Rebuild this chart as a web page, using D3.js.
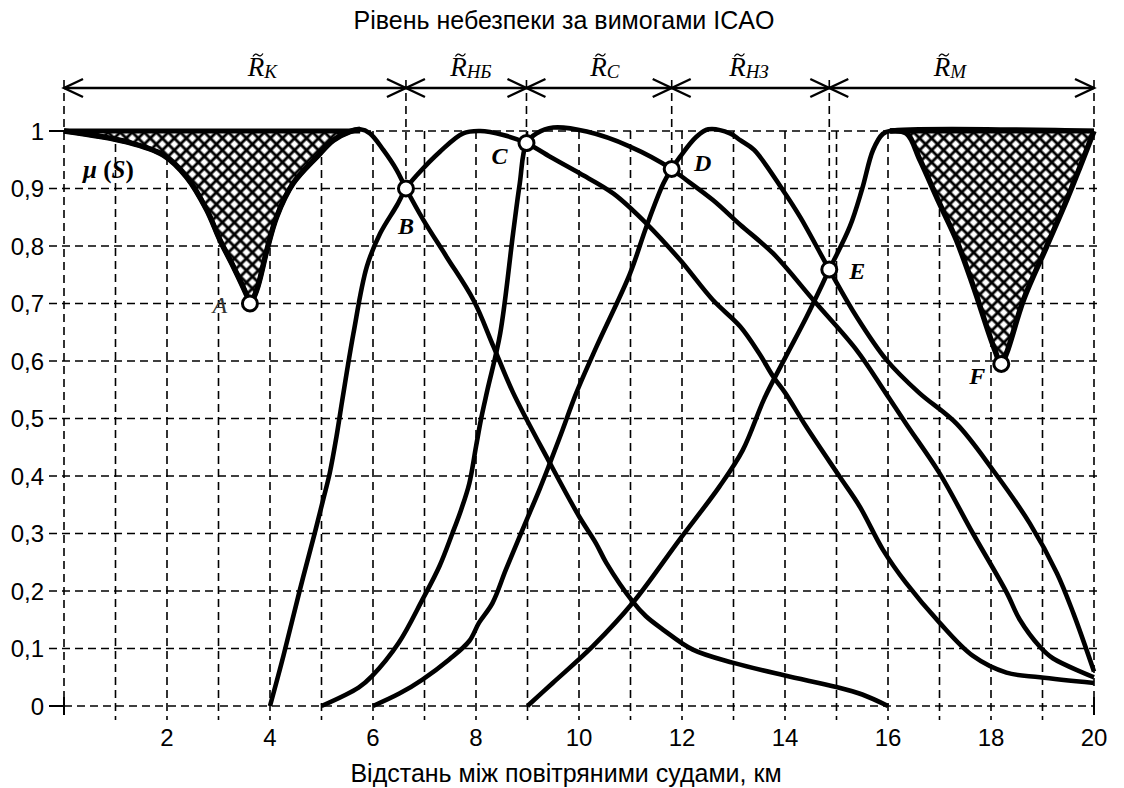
<!DOCTYPE html>
<html>
<head>
<meta charset="utf-8">
<script src="https://cdn.jsdelivr.net/npm/d3@7/dist/d3.min.js"></script>
<style>
  body { margin: 0; background: #fff; }
  svg { display: block; }
  .sans { font-family: "Liberation Sans", Arial, sans-serif; }
  .serif { font-family: "Liberation Serif", "Times New Roman", serif; }
</style>
</head>
<body>
<svg id="chart" width="1124" height="788"></svg>
<script>
// Рівень небезпеки -- membership functions mu(S)

var title = "Рівень небезпеки за вимогами ICAO";
var xTitle = "Відстань між повітряними судами, км";

var xTicks = [2, 4, 6, 8, 10, 12, 14, 16, 18, 20];
var yTicks = [0, 0.1, 0.2, 0.3, 0.4, 0.5, 0.6, 0.7, 0.8, 0.9, 1];
var yTickLabels = ["0", "0,1", "0,2", "0,3", "0,4", "0,5", "0,6", "0,7", "0,8", "0,9", "1"];

// range labels above the chart
var rangeSubs = ["K", "НБ", "С", "НЗ", "М"];
var rangeLabelAt = [3.85, 7.9, 10.5, 13.3, 17.2];

// named points
var points = [
  {name: "A", x: 3.61, v: 0.70},
  {name: "B", x: 6.64, v: 0.90},
  {name: "C", x: 8.98, v: 0.979},
  {name: "D", x: 11.8, v: 0.934},
  {name: "E", x: 14.86, v: 0.759},
  {name: "F", x: 18.2, v: 0.595}
];

// curves, [distance km, mu]
var curveK = [[0,1.0],[1.22,0.981],[1.93,0.958],[2.38,0.92],[2.77,0.863],[3.03,0.81],[3.29,0.764],[3.55,0.714],[3.61,0.70],
  [3.74,0.723],[3.94,0.793],[4.13,0.851],[4.45,0.909],[4.91,0.955],[5.23,0.984],[5.55,0.999],[5.75,1.003],
  [5.94,0.996],[6.2,0.967],[6.46,0.932],[6.64,0.90],[6.98,0.845],[7.43,0.781],[7.95,0.706],[8.34,0.625],
  [8.72,0.545],[9.42,0.425],[10.0,0.33],[10.33,0.283],[10.53,0.249],[11.04,0.182],[11.3,0.156],[11.63,0.133],
  [12.21,0.098],[13.0,0.075],[14.0,0.053],[15.0,0.033],[15.5,0.02],[16,0]];

var curveNB = [[4,0],[4.26,0.087],[4.58,0.202],[4.87,0.301],[5.03,0.358],[5.16,0.405],[5.29,0.468],[5.4,0.53],
  [5.62,0.648],[5.88,0.764],[6.14,0.822],[6.46,0.87],[6.64,0.90],[6.85,0.923],[7.3,0.964],[7.75,0.996],
  [8.08,1.0],[8.53,0.993],[8.98,0.979],[9.5,0.952],[10.02,0.926],[10.67,0.891],[11.31,0.839],[11.96,0.776],
  [12.6,0.706],[13.13,0.66],[13.5,0.613],[13.77,0.573],[14.0,0.545],[14.41,0.486],[15.06,0.399],[15.45,0.347],
  [15.9,0.272],[16.35,0.214],[17,0.145],[17.65,0.087],[18.3,0.058],[18.95,0.05],[20,0.04]];

var curveC = [[5,0],[5.72,0.032],[5.98,0.052],[6.5,0.11],[6.96,0.185],[7.29,0.243],[7.54,0.30],[7.71,0.341],
  [7.87,0.387],[8.0,0.451],[8.1,0.5],[8.22,0.549],[8.47,0.648],[8.72,0.822],[8.85,0.909],[8.98,0.979],
  [9.18,0.996],[9.5,1.006],[10.15,0.999],[10.99,0.973],[11.8,0.934],[11.96,0.923],[12.6,0.88],[13.13,0.837],
  [13.77,0.787],[14.55,0.706],[15.39,0.619],[15.95,0.545],[16.35,0.491],[17.0,0.405],[17.65,0.30],
  [18.3,0.198],[18.56,0.15],[18.95,0.103],[19.2,0.083],[20,0.05]];

var curveNZ = [[6,0],[6.52,0.022],[6.96,0.046],[7.48,0.081],[7.87,0.113],[8.06,0.145],[8.32,0.179],[8.58,0.237],
  [8.9,0.306],[9.23,0.376],[9.42,0.419],[9.68,0.48],[9.95,0.545],[10.34,0.625],[10.99,0.752],[11.31,0.834],
  [11.64,0.909],[11.8,0.934],[11.96,0.955],[12.28,0.99],[12.51,1.003],[12.93,0.996],[13.13,0.984],
  [13.4,0.967],[13.96,0.897],[14.29,0.851],[14.86,0.759],[15.39,0.677],[15.97,0.602],[16.6,0.545],
  [17.33,0.491],[18.04,0.41],[18.75,0.318],[19.28,0.231],[19.6,0.161],[20,0.06]];

var curveM = [[9,0],[9.49,0.04],[10.27,0.104],[11.04,0.179],[11.95,0.289],[12.73,0.382],[13.18,0.445],
  [13.6,0.535],[14.0,0.605],[14.42,0.677],[14.86,0.759],[15.26,0.834],[15.5,0.9],[15.71,0.967],[15.9,0.995],
  [16.04,1.0],[20,1.0]];

// lower edge of the right hatched zone (down to F)
var zoneF = [[16.04,1.0],[16.36,0.996],[16.62,0.95],[17.0,0.874],[17.33,0.81],[17.66,0.729],[18.05,0.625],
  [18.2,0.595],[18.3,0.613],[18.63,0.706],[19.08,0.799],[19.47,0.88],[19.73,0.938],[20,1.0]];

///////////////////////////////////////////////////////////////////////////////
// Scales

var svg = d3.select("#chart");
var x = d3.scaleLinear().domain([0, 20]).range([64, 1094]);
var y = d3.scaleLinear().domain([0, 1]).range([706, 131]);
var arrowY = 88;

var line = d3.line()
  .x(function (d) { return x(d[0]); })
  .y(function (d) { return y(d[1]); })
  .curve(d3.curveCatmullRom.alpha(0.5));

var defs = svg.append("defs");
var pat = defs.append("pattern")
  .attr("id", "hatch")
  .attr("patternUnits", "userSpaceOnUse")
  .attr("width", 8.5).attr("height", 8.5)
  .attr("patternTransform", "rotate(45)");
pat.append("rect").attr("width", 8.5).attr("height", 8.5).attr("fill", "#fff");
pat.append("path").attr("d", "M0,0H8.5M0,8.5H8.5M0,0V8.5M8.5,0V8.5")
  .attr("stroke", "#000").attr("stroke-width", 2.8);

///////////////////////////////////////////////////////////////////////////////
// Grid

var grid = svg.append("g").attr("stroke", "#000").attr("stroke-width", 1.6)
  .attr("stroke-dasharray", "8,5").attr("fill", "none");

grid.selectAll("line.v").data(d3.range(1, 20)).enter().append("line")
  .attr("x1", x).attr("x2", x)
  .attr("y1", y(1)).attr("y2", y(0) + 14);

grid.selectAll("line.h").data(yTicks.filter(function (t) { return t > 0 && t < 1; }))
  .enter().append("line")
  .attr("x1", 49).attr("x2", x(20) + 7)
  .attr("y1", y).attr("y2", y);

grid.selectAll("line.e").data([0, 1]).enter().append("line")
  .attr("x1", x(0)).attr("x2", x(20))
  .attr("y1", y).attr("y2", y);

// dashed drops from the range arrow down to the points
var bounds = [0].concat(points.slice(1, 5).map(function (p) { return p.x; }), [20]);
var dropTo = [0].concat(points.slice(1, 5).map(function (p) { return p.v; }), [0]);
grid.selectAll("line.b").data(bounds).enter().append("line")
  .attr("x1", x).attr("x2", x)
  .attr("y1", arrowY - 8)
  .attr("y2", function (d, i) { return y(dropTo[i]); });

// solid ticks
var ticks = svg.append("g").attr("stroke", "#000").attr("stroke-width", 2);
ticks.selectAll("line.t").data([0, 1]).enter().append("line")
  .attr("x1", 49).attr("x2", x(0)).attr("y1", y).attr("y2", y);
ticks.selectAll("line.s").data([0, 20]).enter().append("line")
  .attr("x1", x).attr("x2", x).attr("y1", y(0) - 9).attr("y2", y(0) + 9);

///////////////////////////////////////////////////////////////////////////////
// Axis labels

svg.append("g").attr("class", "sans").attr("font-size", 24)
  .selectAll("text").data(yTicks).enter().append("text")
  .attr("x", 44).attr("y", function (d) { return y(d) + 8.5; })
  .attr("text-anchor", "end")
  .text(function (d, i) { return yTickLabels[i]; });

svg.append("g").attr("class", "sans").attr("font-size", 24)
  .selectAll("text").data(xTicks).enter().append("text")
  .attr("x", x).attr("y", 746)
  .attr("text-anchor", "middle")
  .text(function (d) { return d; });

svg.append("text").attr("class", "sans").attr("font-size", 25)
  .attr("x", 564).attr("y", 29).attr("text-anchor", "middle").text(title);

svg.append("text").attr("class", "sans").attr("font-size", 25)
  .attr("x", 566).attr("y", 782).attr("text-anchor", "middle").text(xTitle);

///////////////////////////////////////////////////////////////////////////////
// Range arrows

var arr = svg.append("g").attr("stroke", "#000").attr("fill", "none").attr("stroke-width", 2.4);
arr.append("line").attr("x1", x(0)).attr("x2", x(20)).attr("y1", arrowY).attr("y2", arrowY);
for (var i = 0; i < bounds.length - 1; i++) {
  var a = x(bounds[i]), b = x(bounds[i + 1]);
  arr.append("path").attr("d", "M" + (a + 19) + "," + (arrowY - 9) + "L" + a + "," + arrowY + "L" + (a + 19) + "," + (arrowY + 9));
  arr.append("path").attr("d", "M" + (b - 19) + "," + (arrowY - 9) + "L" + b + "," + arrowY + "L" + (b - 19) + "," + (arrowY + 9));
}

rangeSubs.forEach(function (sub, i) {
  var t = svg.append("text").attr("class", "serif").attr("font-style", "italic")
    .attr("font-size", 27).attr("x", x(rangeLabelAt[i])).attr("y", 76)
    .attr("text-anchor", "middle");
  t.append("tspan").text("R");
  t.append("tspan").attr("font-size", 19).attr("dy", 2).text(sub);
  // small tilde over the R
  var box = t.node().getExtentOfChar(0);
  var cx = box.x + box.width / 2 + 2, cy = 55;
  svg.append("path")
    .attr("d", "M" + (cx - 5) + "," + (cy + 1.5) + "q2.5,-4 5,-1.5t5,-1.5")
    .attr("fill", "none").attr("stroke", "#000").attr("stroke-width", 1.3);
});

///////////////////////////////////////////////////////////////////////////////
// Hatched zones

var zoneA = curveK.filter(function (d) { return d[0] <= 5.75; });
var area = d3.area()
  .x(function (d) { return x(d[0]); })
  .y0(y(1))
  .y1(function (d) { return y(d[1]); })
  .curve(d3.curveCatmullRom.alpha(0.5));

[zoneA, zoneF].forEach(function (z) {
  svg.append("path").datum(z).attr("d", area).attr("fill", "url(#hatch)");
  svg.append("line").attr("x1", x(z[0][0])).attr("x2", x(z[z.length - 1][0]))
    .attr("y1", y(1)).attr("y2", y(1)).attr("stroke", "#000").attr("stroke-width", 5);
  svg.append("path").datum(z).attr("d", line).attr("fill", "none")
    .attr("stroke", "#000").attr("stroke-width", 5.5).attr("stroke-linejoin", "round");
});

///////////////////////////////////////////////////////////////////////////////
// Curves

svg.append("g").selectAll("path")
  .data([curveK, curveNB, curveC, curveNZ, curveM])
  .enter().append("path")
  .attr("d", line)
  .attr("fill", "none")
  .attr("stroke", "#000")
  .attr("stroke-width", 4.6)
  .attr("stroke-linejoin", "round");

///////////////////////////////////////////////////////////////////////////////
// Points and labels

var labelOffset = {A: [-30, 9], B: [0, 45], C: [-27, 21], D: [31, 2], E: [28, 9], F: [-24, 20]};

svg.append("g").selectAll("circle").data(points).enter().append("circle")
  .attr("cx", function (d) { return x(d.x); })
  .attr("cy", function (d) { return y(d.v); })
  .attr("r", 7.5)
  .attr("fill", "#fff").attr("stroke", "#000").attr("stroke-width", 3);

svg.append("g").selectAll("text").data(points).enter().append("text")
  .attr("class", "serif")
  .attr("font-style", "italic")
  .attr("font-weight", function (d) { return d.name === "A" ? "normal" : "bold"; })
  .attr("fill", function (d) { return d.name === "A" ? "#333" : "#000"; })
  .attr("font-size", 24)
  .attr("text-anchor", "middle")
  .attr("x", function (d) { return x(d.x) + labelOffset[d.name][0]; })
  .attr("y", function (d) { return y(d.v) + labelOffset[d.name][1]; })
  .text(function (d) { return d.name; });

var mu = svg.append("text").attr("class", "serif").attr("font-style", "italic")
  .attr("font-weight", "bold").attr("font-size", 25).attr("x", 83).attr("y", 178);
mu.append("tspan").text("μ ");
mu.append("tspan").attr("font-style", "normal").text("(");
mu.append("tspan").text("S");
mu.append("tspan").attr("font-style", "normal").text(")");
</script>
</body>
</html>
